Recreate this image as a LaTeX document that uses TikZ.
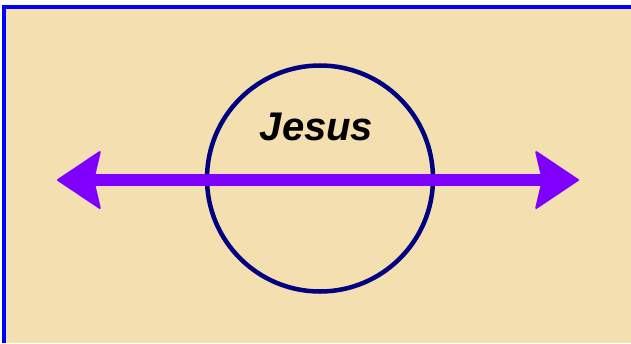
\documentclass[tikz,border=0pt]{standalone}
\usepackage{fontspec}
\setmainfont{Liberation Sans}
\usetikzlibrary{arrows.meta}
\definecolor{bgbeige}{HTML}{F4DFB0}
\definecolor{framblue}{HTML}{0000FF}
\definecolor{ringnavy}{HTML}{000080}
\definecolor{arrowpurple}{HTML}{8000FF}
\tikzset{
  framestroke/.style={draw=framblue, line width=4pt},
  ring/.style={circle, draw=ringnavy, line width=4.5pt, minimum size=226pt, inner sep=0pt},
  label text/.style={font=\fontsize{40}{40}\selectfont\bfseries\itshape, text=black, inner sep=0pt, anchor=base},
  double arrow/.style={draw=arrowpurple, line width=11.5pt,
    {Stealth[length=45pt, width=60pt, inset=7pt, line width=2pt, round]}-{Stealth[length=45pt, width=60pt, inset=7pt, line width=2pt, round]}}
}
\begin{document}
\begin{tikzpicture}[x=1pt, y=-1pt]
  \useasboundingbox (0,0) rectangle (631,343);
  \fill[white] (0,0) rectangle (631,343);
  \fill[bgbeige] (2,5) rectangle (631,343);
  \draw[framestroke] (631,7) -- (4,7) -- (4,343);
  \node[ring] (ring) at (320,178.5) {};
  \node[label text] (jesus) at (316.5,140) {Jesus};
  \coordinate (leftend) at (57,180);
  \coordinate (rightend) at (579,180);
  \draw[double arrow] (leftend) -- (rightend);
\end{tikzpicture}
\end{document}
